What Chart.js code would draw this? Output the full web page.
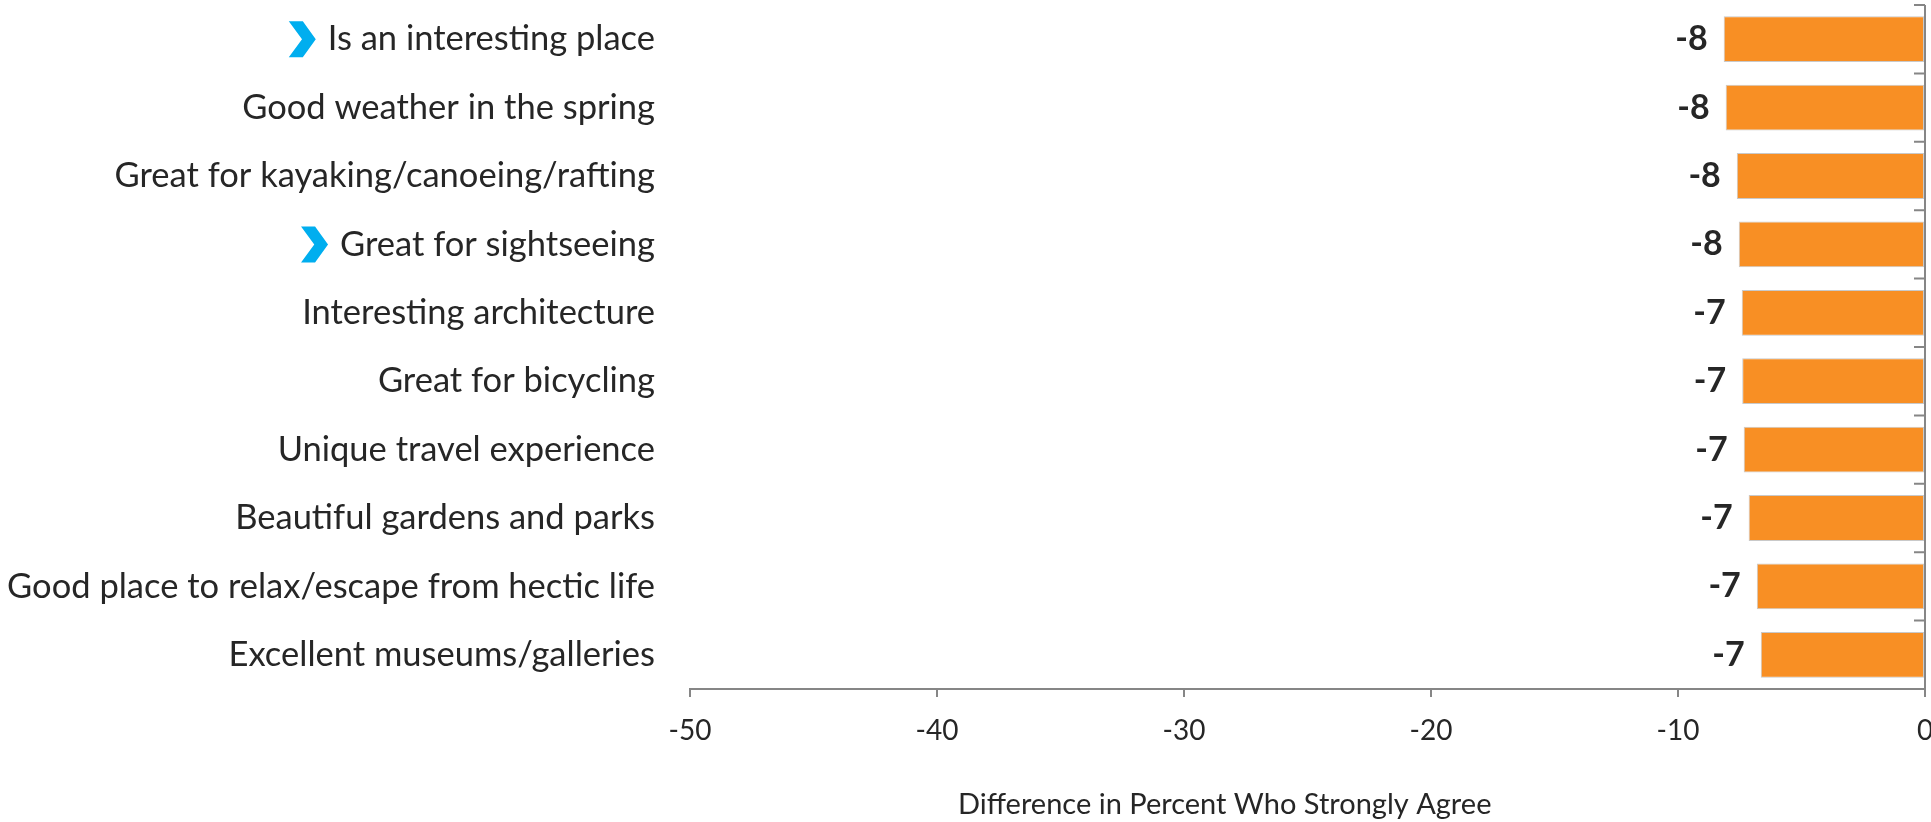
<!DOCTYPE html>
<html>
<head>
<meta charset="utf-8">
<script src="https://cdn.jsdelivr.net/npm/chart.js@4"></script>
<style>
    body { margin: 0; background: #ffffff; }
    #wrap { width: 1931px; height: 822px; position: relative; }
</style>
</head>
<body>
<div id="wrap"><canvas id="diffChart"></canvas></div>
<script>
const categories = [
    "Is an interesting place",
    "Good weather in the spring",
    "Great for kayaking/canoeing/rafting",
    "Great for sightseeing",
    "Interesting architecture",
    "Great for bicycling",
    "Unique travel experience",
    "Beautiful gardens and parks",
    "Good place to relax/escape from hectic life",
    "Excellent museums/galleries"
];
const differences = [-8.15, -8.07, -7.62, -7.54, -7.42, -7.40, -7.34, -7.14, -6.81, -6.65];
const highlighted = [true, false, false, true, false, false, false, false, false, false];
const xTicks = [-50, -40, -30, -20, -10, 0];
const axisTitle = "Difference in Percent Who Strongly Agree";

document.addEventListener("DOMContentLoaded", function() {
    const ctx = document.getElementById("diffChart").getContext("2d");
    const axisGrey = "#868686";
    const textDark = "#262626";
    const labelFont = "34.5px Lato";

    // value labels, the right hand axis line, chevrons and the axis title
    const extras = {
        id: "extras",
        afterDatasetsDraw(chart) {
            const c = chart.ctx;
            const meta = chart.getDatasetMeta(0);
            c.save();
            c.font = "bold 34px Lato";
            c.fillStyle = textDark;
            c.textAlign = "right";
            c.textBaseline = "middle";
            meta.data.forEach((bar, i) => {
                c.fillText(String(Math.round(differences[i])), bar.x - 16, bar.y);
            });
            c.restore();
        },
        afterDraw(chart) {
            const c = chart.ctx;
            const area = chart.chartArea;
            const x = chart.scales.x;
            const y = chart.scales.y;
            const zeroX = x.getPixelForValue(0);

            c.save();
            c.strokeStyle = axisGrey;
            c.lineWidth = 2;
            c.beginPath();
            c.moveTo(zeroX, area.top);
            c.lineTo(zeroX, area.bottom);
            for (let i = 0; i <= categories.length; i++) {
                const py = y.getPixelForValue(i - 0.5);
                c.moveTo(zeroX - 11, py);
                c.lineTo(zeroX, py);
            }
            c.stroke();

            c.font = labelFont;
            const labelRight = y.right - 35;
            c.fillStyle = "#00AEEF";
            categories.forEach((name, i) => {
                if (!highlighted[i]) return;
                const w = c.measureText(name).width;
                const right = labelRight - w - 12;
                const cy = y.getPixelForValue(i);
                const cw = 27, ch = 36;
                const left = right - cw;
                c.beginPath();
                c.moveTo(left, cy - ch / 2);
                c.lineTo(left + cw * 0.52, cy - ch / 2);
                c.lineTo(right, cy);
                c.lineTo(left + cw * 0.52, cy + ch / 2);
                c.lineTo(left, cy + ch / 2);
                c.lineTo(left + cw * 0.49, cy);
                c.closePath();
                c.fill();
            });

            c.font = "29px Lato";
            c.fillStyle = textDark;
            c.textAlign = "center";
            c.textBaseline = "middle";
            c.fillText(axisTitle, area.left + area.width * 0.433, 805);
            c.restore();
        }
    };

    new Chart(ctx, {
        type: "bar",
        data: {
            labels: categories,
            datasets: [{
                label: "Difference",
                data: differences,
                backgroundColor: "#F88F24",
                borderColor: "#C9C9C9",
                borderWidth: 1,
                borderSkipped: false,
                barPercentage: 0.67,
                categoryPercentage: 1
            }]
        },
        options: {
            indexAxis: "y",
            responsive: true,
            maintainAspectRatio: false,
            animation: false,
            layout: {
                padding: { top: 5, right: 6, bottom: 0, left: 0 }
            },
            plugins: {
                legend: { display: false },
                tooltip: { enabled: false }
            },
            scales: {
                x: {
                    type: "linear",
                    position: "bottom",
                    min: -50,
                    max: 0,
                    afterBuildTicks: function(scale) {
                        scale.ticks = xTicks.map(v => ({ value: v }));
                    },
                    afterFit: function(scale) {
                        scale.height = 133;
                        scale.paddingLeft = 0;
                        scale.paddingRight = 0;
                    },
                    grid: {
                        drawOnChartArea: false,
                        drawTicks: true,
                        tickLength: 8,
                        color: axisGrey,
                        lineWidth: 2
                    },
                    border: { color: axisGrey, width: 2 },
                    ticks: {
                        font: { family: "Lato", size: 28 },
                        color: textDark,
                        padding: 17,
                        maxRotation: 0
                    }
                },
                y: {
                    type: "category",
                    position: "left",
                    afterFit: function(scale) {
                        scale.width = 690;
                        scale.paddingTop = 0;
                        scale.paddingBottom = 0;
                    },
                    grid: { display: false, drawTicks: false },
                    border: { display: false },
                    ticks: {
                        font: { family: "Lato", size: 34.5 },
                        color: textDark,
                        padding: 35,
                        autoSkip: false
                    }
                }
            }
        },
        plugins: [extras]
    });
});
</script>
</body>
</html>
